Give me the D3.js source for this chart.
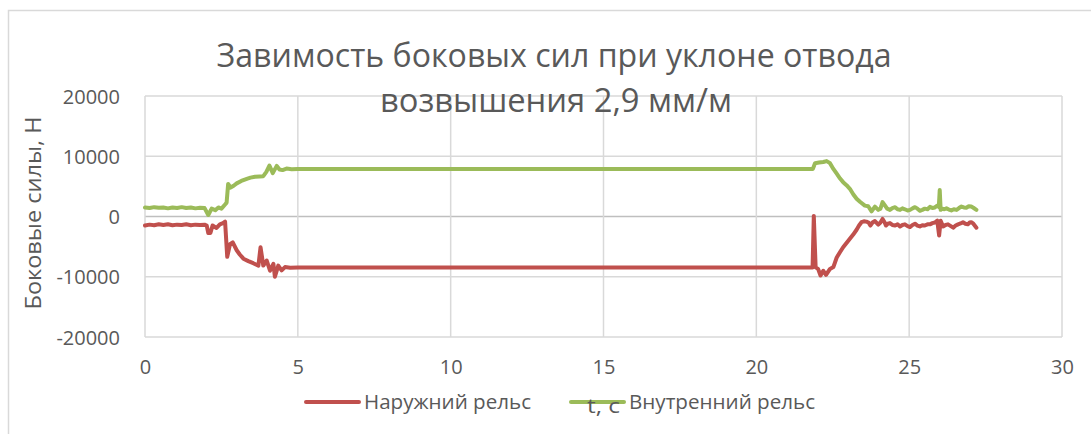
<!DOCTYPE html>
<html>
<head>
<meta charset="utf-8">
<script src="https://cdn.jsdelivr.net/npm/d3@7/dist/d3.min.js"></script>
<style>
  html, body { margin: 0; padding: 0; background: #ffffff; }
  svg { display: block; }
  text { font-family: "Open Sans", "Noto Sans", sans-serif; fill: #595959; }
</style>
</head>
<body>
<svg id="chart" width="1091" height="434"></svg>
<script>
// Chart text
const titleLines = ["Завимость боковых сил при уклоне отвода", "возвышения 2,9 мм/м"];
const yAxisTitle = "Боковые силы, Н";
const xAxisTitle = "t, c";
const seriesNames = ["Наружний рельс", "Внутренний рельс"];

// Axis ticks
const xTicks = [0, 5, 10, 15, 20, 25, 30];
const yTicks = [-20000, -10000, 0, 10000, 20000];

// Outer rail: time (s) and lateral force (N)
const outerT = [0, 0.15, 0.3, 0.45, 0.6, 0.75, 0.9, 1.05, 1.2, 1.35, 1.5, 1.65, 1.8, 1.95,
  2.02, 2.07, 2.14, 2.21, 2.34, 2.45, 2.55, 2.62, 2.69, 2.78, 2.87, 3.0, 3.1, 3.22, 3.38,
  3.54, 3.71, 3.78, 3.87, 3.98, 4.09, 4.2, 4.25, 4.36, 4.47, 4.58, 4.75, 5.0, 8.0, 12.0,
  16.0, 20.0, 21.84, 21.88, 21.94, 22.02, 22.1, 22.19, 22.28, 22.41, 22.52, 22.63, 22.74,
  22.84, 22.95, 23.06, 23.17, 23.28, 23.36, 23.44, 23.52, 23.6, 23.67, 23.73, 23.8, 23.88,
  23.99, 24.06, 24.13, 24.2, 24.24, 24.3, 24.37, 24.45, 24.54, 24.62, 24.7, 24.78, 24.86,
  24.95, 25.03, 25.11, 25.19, 25.27, 25.35, 25.43, 25.51, 25.6, 25.68, 25.76, 25.84, 25.92,
  25.98, 26.03, 26.11, 26.19, 26.27, 26.35, 26.44, 26.52, 26.6, 26.68, 26.76, 26.84, 26.92,
  26.98, 27.03, 27.1, 27.2];
const outerF = [-1500, -1350, -1450, -1300, -1400, -1300, -1450, -1350, -1400, -1300, -1450,
  -1350, -1400, -1350, -1500, -2750, -2750, -1500, -1900, -1300, -1100, -850, -6700, -4600,
  -4300, -5600, -6300, -7000, -7400, -7750, -8150, -5100, -8150, -7300, -9000, -7850, -10000,
  -8150, -8950, -8400, -8500, -8450, -8450, -8450, -8450, -8450, -8450, 100, -8450, -8700,
  -9800, -9000, -9700, -8700, -8400, -6800, -5900, -5100, -4400, -3700, -3000, -2200, -1500,
  -950, -800, -850, -1000, -1500, -1000, -750, -1350, -1000, -400, -1000, -1500, -1200,
  -1100, -1400, -1500, -1300, -1650, -1400, -1300, -1600, -1750, -1400, -1200, -1500, -1650,
  -1450, -1500, -1300, -1300, -1100, -1000, -700, -3150, -700, -1650, -1400, -1300, -1550,
  -1850, -1500, -1300, -1150, -950, -1200, -1300, -1000, -950, -1200, -1850];

// Inner rail: time (s) and lateral force (N)
const innerT = [0, 0.15, 0.3, 0.45, 0.6, 0.75, 0.9, 1.05, 1.2, 1.35, 1.5, 1.65, 1.8, 1.95,
  2.07, 2.18, 2.3, 2.4, 2.5, 2.62, 2.67, 2.72, 2.8, 2.9, 3.0, 3.15, 3.33, 3.45, 3.6, 3.75,
  3.87, 3.97, 4.07, 4.18, 4.31, 4.4, 4.5, 4.63, 4.8, 5.0, 8.0, 12.0, 16.0, 20.0, 21.85,
  21.92, 22.05, 22.19, 22.3, 22.41, 22.52, 22.63, 22.74, 22.84, 22.95, 23.06, 23.17, 23.28,
  23.4, 23.55, 23.66, 23.77, 23.88, 23.99, 24.06, 24.13, 24.2, 24.28, 24.37, 24.45, 24.54,
  24.62, 24.7, 24.78, 24.86, 24.95, 25.03, 25.11, 25.19, 25.27, 25.35, 25.43, 25.51, 25.6,
  25.68, 25.76, 25.84, 25.92, 25.97, 26.0, 26.03, 26.08, 26.15, 26.22, 26.3, 26.38, 26.46,
  26.55, 26.63, 26.71, 26.79, 26.87, 26.95, 27.03, 27.1, 27.2];
const innerF = [1500, 1400, 1550, 1450, 1500, 1350, 1500, 1400, 1550, 1400, 1500, 1350,
  1450, 1400, 250, 1300, 1050, 1500, 1300, 2000, 2300, 5400, 4800, 5100, 5500, 5900, 6250,
  6450, 6600, 6650, 6700, 7400, 8450, 7200, 8400, 7800, 7700, 7950, 7850, 7900, 7900, 7900,
  7900, 7900, 7900, 8850, 8950, 9050, 9200, 8850, 7900, 7100, 6300, 5700, 5200, 4600, 3700,
  2950, 2400, 1800, 1700, 850, 1650, 1100, 1300, 2400, 1900, 1300, 1100, 1400, 1550, 1200,
  1100, 1350, 1200, 1000, 1100, 1350, 1550, 1300, 950, 1100, 1300, 1200, 1600, 1400, 1500,
  1800, 1600, 4400, 1100, 1300, 1200, 1350, 1150, 1000, 1200, 1100, 1400, 1650, 1500, 1450,
  1700, 1650, 1450, 1100];

const seriesColors = ["#c0504d", "#9bbb59"];

const svg = d3.select("#chart");
const W = 1091, H = 434;

// Chart area frame
svg.append("rect")
  .attr("x", 8.5).attr("y", 10.5)
  .attr("width", W + 20).attr("height", H + 20)
  .attr("fill", "#ffffff")
  .attr("stroke", "#d9d9d9").attr("stroke-width", 1.5);

const plot = { left: 145, right: 1062, top: 96, bottom: 337 };

const x = d3.scaleLinear().domain([0, 30]).range([plot.left, plot.right]);
const y = d3.scaleLinear().domain([-20000, 20000]).range([plot.bottom, plot.top]);

// Gridlines
const grid = svg.append("g");
grid.selectAll("line.h").data(yTicks).join("line")
  .attr("x1", plot.left).attr("x2", plot.right)
  .attr("y1", d => y(d)).attr("y2", d => y(d))
  .attr("stroke", d => d === 0 ? "#bfbfbf" : "#d9d9d9")
  .attr("stroke-width", 1.5);
grid.selectAll("line.v").data(xTicks).join("line")
  .attr("x1", d => x(d)).attr("x2", d => x(d))
  .attr("y1", plot.top).attr("y2", plot.bottom)
  .attr("stroke", "#d9d9d9")
  .attr("stroke-width", 1.5);

// Tick labels use a plain hyphen for negatives
const plainFormat = d => String(d);

const yAxis = svg.append("g")
  .attr("transform", `translate(${plot.left},0)`)
  .call(d3.axisLeft(y).tickValues(yTicks).tickSize(0).tickPadding(25).tickFormat(plainFormat));
yAxis.select(".domain").remove();
yAxis.selectAll("text")
  .style("font-family", "'Open Sans', sans-serif")
  .attr("font-size", 20).attr("fill", "#595959").attr("dy", "0.35em");

const xAxis = svg.append("g")
  .attr("transform", `translate(0,${plot.bottom})`)
  .call(d3.axisBottom(x).tickValues(xTicks).tickSize(0).tickPadding(23).tickFormat(plainFormat));
xAxis.select(".domain").remove();
xAxis.selectAll("text")
  .style("font-family", "'Open Sans', sans-serif")
  .attr("font-size", 20).attr("fill", "#595959");

// Series lines
const line = d3.line()
  .x(d => x(d[0]))
  .y(d => y(d[1]));

const series = [
  d3.zip(outerT, outerF),
  d3.zip(innerT, innerF)
];

svg.append("g").selectAll("path").data(series).join("path")
  .attr("d", line)
  .attr("fill", "none")
  .attr("stroke", (d, i) => seriesColors[i])
  .attr("stroke-width", 4)
  .attr("stroke-linejoin", "round")
  .attr("stroke-linecap", "round");

// Helper: text fitted to a given width
function fitText(sel, width) {
  sel.attr("textLength", width).attr("lengthAdjust", "spacingAndGlyphs");
}

// Title
svg.append("text")
  .attr("x", 554).attr("y", 67)
  .attr("text-anchor", "middle")
  .attr("font-size", 33)
  .text(titleLines[0])
  .call(fitText, 675);
svg.append("text")
  .attr("x", 556).attr("y", 112)
  .attr("text-anchor", "middle")
  .attr("font-size", 33)
  .text(titleLines[1])
  .call(fitText, 352);

// Y-axis title
svg.append("text")
  .attr("transform", "translate(41,213) rotate(-90)")
  .attr("text-anchor", "middle")
  .attr("font-size", 22)
  .text(yAxisTitle)
  .call(fitText, 193);

// Legend
const legend = svg.append("g");
const legendItems = [
  { x1: 306, x2: 359, tx: 364, tw: 167 },
  { x1: 571, x2: 624, tx: 629, tw: 186 }
];
legendItems.forEach((it, i) => {
  legend.append("line")
    .attr("x1", it.x1).attr("x2", it.x2)
    .attr("y1", 402).attr("y2", 402)
    .attr("stroke", seriesColors[i])
    .attr("stroke-width", 4)
    .attr("stroke-linecap", "round");
  legend.append("text")
    .attr("x", it.tx).attr("y", 409)
    .attr("font-size", 20)
    .text(seriesNames[i])
    .call(fitText, it.tw);
});

// X-axis title (drawn after the legend, overlapping it)
svg.append("text")
  .attr("x", (plot.left + plot.right) / 2).attr("y", 413)
  .attr("text-anchor", "middle")
  .attr("font-size", 20)
  .text(xAxisTitle)
  .call(fitText, 33);
</script>
</body>
</html>
